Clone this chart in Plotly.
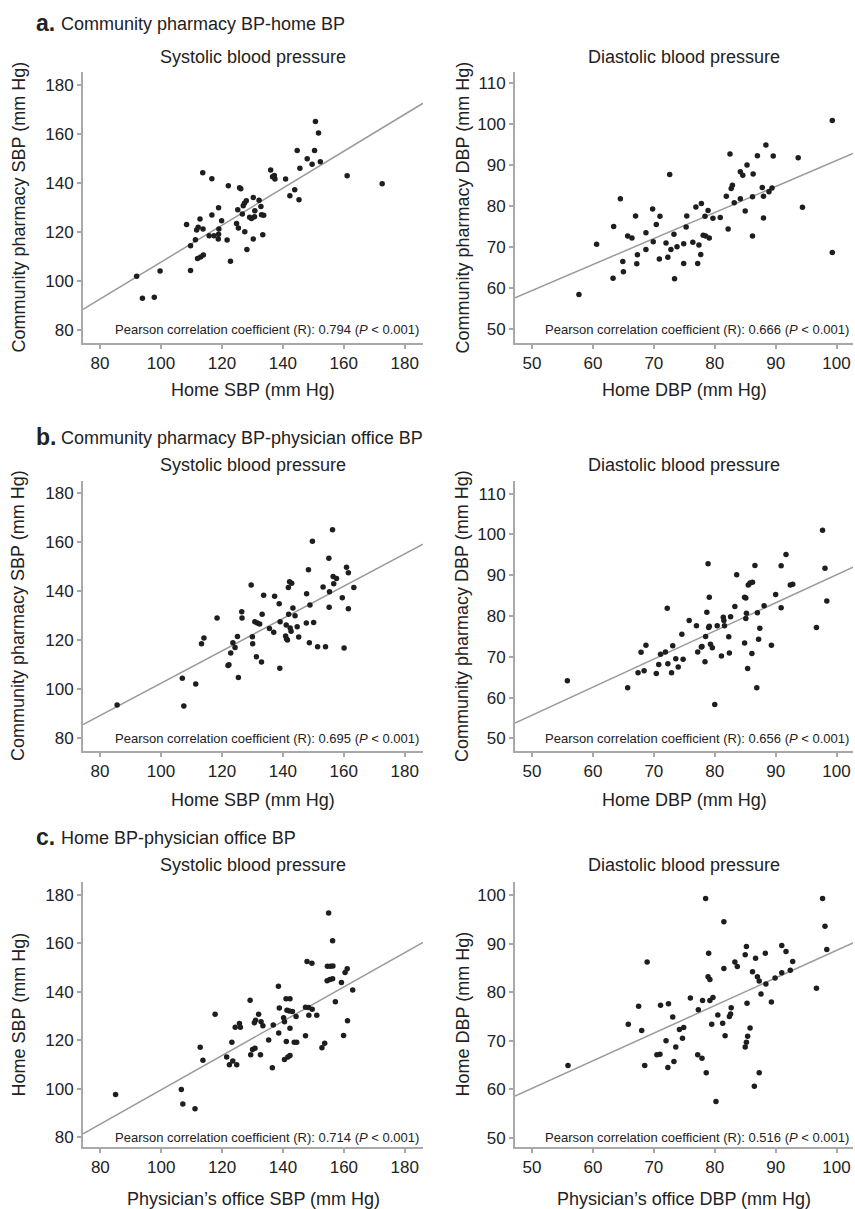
import numpy as np
import plotly.graph_objects as go

W, H = 855, 1209

# ---------------- data ----------------
# a. Community pharmacy BP vs home BP
a_sbp_home = [92.0, 93.9, 97.8, 99.7, 108.4, 109.7, 109.7, 111.3, 111.7, 112.2, 112.8, 113.8, 112.0, 113.0, 113.9,
              113.7, 116.7, 116.7, 115.8, 117.4, 118.9, 119.0, 118.9, 118.8, 119.9, 121.7, 122.1, 122.8, 124.8, 125.4,
              125.2, 125.8, 126.2, 126.7, 127.0, 127.4, 128.0, 127.5, 128.2, 129.1, 129.7, 130.3, 130.3, 130.8, 130.7,
              132.2, 132.8, 133.0, 133.7, 133.4, 136.0, 136.6, 137.2, 137.4, 140.9, 142.3, 143.9, 145.3, 144.7, 145.6,
              148.0, 149.6, 150.4, 150.7, 151.7, 152.3, 161.1, 172.6]
a_sbp_pharm = [101.8, 92.9, 93.3, 104.0, 123.0, 104.2, 114.3, 116.7, 120.7, 121.8, 125.2, 121.1, 109.1, 109.7, 110.5,
               144.1, 141.6, 126.8, 118.4, 118.4, 129.8, 121.1, 119.0, 117.0, 124.5, 116.6, 138.8, 108.0, 123.4, 121.5,
               129.0, 138.0, 137.6, 127.2, 130.6, 131.6, 132.7, 120.0, 112.8, 125.9, 125.4, 134.0, 117.0, 128.6, 126.1,
               132.9, 130.3, 126.9, 126.7, 118.8, 145.2, 142.4, 143.0, 141.5, 141.5, 134.7, 137.1, 133.1, 153.2, 145.9,
               149.8, 147.6, 153.2, 165.0, 160.3, 148.6, 142.9, 139.6]
a_dbp_home = [57.7, 60.6, 63.3, 63.4, 64.5, 64.9, 65.0, 65.7, 66.4, 67.0, 67.2, 67.3, 68.7, 68.7, 69.8, 69.9, 70.4,
              71.0, 70.9, 72.0, 72.3, 72.6, 72.8, 73.3, 73.8, 73.4, 74.9, 74.9, 75.3, 75.4, 76.4, 76.9, 77.2, 77.4,
              77.7, 77.8, 78.1, 78.4, 78.5, 78.9, 79.1, 79.7, 80.9, 81.9, 82.2, 82.5, 82.7, 82.9, 83.2, 84.2, 84.2,
              84.6, 85.0, 85.3, 86.2, 86.2, 86.3, 87.0, 87.8, 88.0, 88.0, 88.4, 88.9, 89.4, 89.6, 93.7, 94.4, 99.3, 99.3]
a_dbp_pharm = [58.5, 70.8, 62.5, 75.1, 81.9, 66.6, 64.1, 72.8, 72.3, 77.7, 66.0, 68.2, 73.6, 69.5, 79.4, 71.4, 75.6,
               77.6, 67.2, 71.1, 67.6, 87.8, 69.5, 73.2, 70.2, 62.4, 70.9, 66.1, 75.0, 77.7, 71.3, 79.9, 66.1, 70.6,
               68.3, 80.7, 73.0, 77.6, 72.8, 79.0, 72.3, 77.1, 77.3, 82.5, 74.5, 92.8, 84.4, 85.2, 80.9, 88.5, 81.9,
               87.6, 78.9, 90.1, 72.8, 82.4, 87.9, 92.4, 84.6, 82.5, 77.2, 95.0, 83.6, 84.5, 92.3, 91.9, 79.8, 101.0, 68.8]

# b. Community pharmacy BP vs physician office BP
b_sbp_x = [85.6, 107.5, 107.0, 111.4, 113.3, 114.1, 118.4, 122.0, 122.3, 122.9, 123.6, 124.3, 125.1, 125.4, 126.5,
           126.6, 129.6, 130.0, 130.1, 130.8, 131.3, 131.6, 132.4, 133.0, 133.2, 133.7, 135.6, 137.0, 137.3, 138.8,
           139.0, 139.1, 140.9, 141.2, 141.5, 141.1, 141.9, 141.8, 142.2, 142.9, 142.4, 142.7, 143.3, 144.0, 144.7,
           145.2, 147.7, 147.8, 148.4, 148.7, 148.9, 149.7, 150.1, 151.4, 153.2, 154.0, 155.1, 155.3, 155.2, 156.3,
           156.5, 156.7, 157.6, 159.5, 160.1, 160.9, 161.5, 161.5, 163.3]
b_sbp_y = [93.6, 93.2, 104.5, 102.2, 118.6, 121.0, 129.1, 109.7, 110.0, 114.8, 119.0, 117.1, 121.6, 104.8, 131.7,
           129.1, 142.6, 121.5, 118.6, 127.6, 113.3, 127.1, 126.7, 111.2, 130.7, 138.4, 124.8, 123.3, 138.0, 135.0,
           108.6, 127.6, 121.8, 120.7, 120.1, 126.3, 130.7, 141.6, 143.9, 143.3, 125.0, 123.7, 133.2, 130.1, 125.6,
           121.4, 127.1, 139.0, 148.8, 119.0, 134.4, 160.5, 127.3, 117.4, 141.8, 117.4, 153.5, 139.9, 133.5, 165.2,
           146.1, 143.1, 145.3, 137.4, 116.9, 149.9, 147.6, 132.9, 141.6]
b_dbp_x = [55.8, 65.7, 67.4, 67.9, 68.4, 68.7, 70.4, 70.8, 71.1, 71.9, 72.3, 72.2, 72.9, 73.1, 73.6, 74.0, 74.6,
           74.8, 75.8, 77.0, 77.2, 77.8, 77.9, 78.4, 78.5, 78.7, 78.9, 79.0, 79.1, 79.1, 79.3, 79.6, 80.4, 80.0,
           81.1, 81.4, 81.5, 81.6, 82.3, 82.4, 82.6, 83.3, 83.6, 84.9, 84.9, 85.1, 85.1, 85.2, 85.4, 85.5, 85.8,
           86.1, 86.2, 86.6, 86.9, 87.0, 87.2, 87.4, 88.1, 89.3, 90.0, 90.9, 90.9, 91.7, 92.4, 92.8, 96.7, 97.7,
           98.1, 98.4]
b_dbp_y = [64.1, 62.4, 66.1, 71.1, 66.6, 72.8, 65.9, 68.1, 70.6, 71.2, 68.3, 81.9, 66.1, 72.7, 69.5, 67.5, 75.5,
           69.4, 78.9, 77.6, 71.2, 72.4, 72.5, 68.8, 75.0, 80.9, 92.8, 77.2, 77.5, 84.6, 73.1, 72.2, 77.6, 58.3,
           70.2, 79.7, 78.9, 77.6, 74.9, 70.9, 79.8, 82.3, 90.1, 73.4, 84.6, 84.4, 79.4, 80.7, 67.1, 87.6, 88.1,
           70.8, 88.3, 92.4, 62.4, 80.8, 74.3, 77.0, 82.5, 72.8, 85.3, 82.0, 92.3, 95.1, 87.6, 87.8, 77.2, 101.0,
           91.7, 83.7]

# c. Home BP vs physician office BP
c_sbp_office = [85.0, 106.6, 107.1, 111.1, 112.8, 113.7, 117.7, 121.5, 122.4, 123.5, 124.8, 123.2, 124.3, 126.0,
                125.7, 129.2, 129.4, 130.0, 130.8, 132.6, 130.6, 131.0, 132.0, 132.8, 133.4, 135.3, 136.5, 136.8,
                138.5, 138.6, 138.8, 140.2, 140.5, 141.0, 142.3, 141.3, 142.1, 143.1, 142.3, 141.1, 141.6, 142.3,
                140.5, 143.7, 144.5, 144.3, 147.4, 147.4, 148.4, 149.6, 148.5, 151.1, 147.9, 149.5, 152.8, 153.7,
                155.0, 156.3, 154.6, 155.6, 156.4, 154.5, 155.4, 156.3, 157.2, 159.2, 159.9, 160.4, 161.1, 161.2,
                162.9]
c_sbp_home = [97.6, 99.7, 93.7, 91.8, 117.1, 111.7, 130.7, 113.1, 109.9, 111.4, 109.9, 119.2, 125.3, 125.3, 126.9,
              136.5, 114.0, 116.2, 116.7, 114.0, 127.2, 128.2, 130.7, 127.6, 126.0, 120.1, 108.7, 126.3, 142.2, 123.0,
              133.3, 129.3, 127.6, 137.1, 137.1, 132.4, 132.0, 131.8, 124.9, 119.5, 113.1, 113.7, 112.1, 119.2, 119.2,
              129.8, 121.8, 133.6, 133.5, 132.8, 130.3, 130.3, 152.4, 151.7, 116.9, 118.8, 172.4, 161.0, 150.5, 150.5,
              150.6, 144.5, 145.0, 145.3, 135.9, 143.8, 121.9, 147.9, 149.5, 128.0, 140.7]
c_dbp_office = [55.9, 65.8, 67.5, 68.0, 68.9, 68.5, 70.5, 71.0, 71.1, 72.0, 72.4, 72.3, 73.1, 73.3, 73.6, 74.2, 74.9,
                74.7, 76.0, 77.3, 77.2, 77.9, 78.0, 78.5, 79.0, 78.9, 79.2, 79.2, 79.7, 79.5, 80.5, 81.3, 81.7, 81.5,
                81.5, 82.4, 82.6, 82.7, 83.3, 83.7, 85.0, 85.2, 85.4, 85.8, 85.0, 85.2, 85.3, 86.2, 86.7, 87.0, 87.3,
                87.6, 88.3, 88.4, 89.3, 89.9, 91.0, 91.0, 91.7, 92.4, 92.8, 96.7, 97.7, 98.1, 98.4, 78.6, 80.2, 86.5,
                87.3]
c_dbp_home = [64.9, 73.4, 77.1, 72.1, 86.2, 64.9, 67.1, 67.2, 77.3, 70.0, 77.6, 64.5, 74.9, 65.7, 68.7, 72.3, 72.7,
              70.5, 78.8, 76.4, 67.1, 66.4, 78.3, 99.3, 88.0, 83.2, 82.6, 78.3, 78.9, 73.4, 75.3, 73.6, 71.0, 84.9,
              94.5, 75.0, 75.5, 76.8, 86.2, 85.3, 68.7, 69.7, 70.9, 72.6, 87.7, 89.4, 77.7, 84.2, 87.0, 83.2, 82.3,
              79.6, 88.0, 81.7, 78.0, 82.9, 84.0, 89.6, 88.4, 84.5, 86.3, 80.8, 99.3, 93.6, 88.8, 63.4, 57.5, 60.6,
              63.4]

# fitted regression lines: (slope, intercept)
fit_lines = [(0.754, 32.2), (0.634, 27.8), (0.660, 36.5), (0.688, 21.3), (0.706, 29.0), (0.568, 31.8)]

pearson_r = ["0.794", "0.666", "0.695", "0.656", "0.714", "0.516"]

sbp_ticks = [80, 100, 120, 140, 160, 180]
dbp_ticks_ab = [50, 60, 70, 80, 90, 100, 110]
dbp_ticks_c = [50, 60, 70, 80, 90, 100]
dbp_xticks = [50, 60, 70, 80, 90, 100]

row_headers = ["a.", "b.", "c."]
row_header_texts = ["Community pharmacy BP-home BP",
                    "Community pharmacy BP-physician office BP",
                    "Home BP-physician office BP"]
col_titles = ["Systolic blood pressure", "Diastolic blood pressure"]
x_titles = ["Home SBP (mm Hg)", "Home DBP (mm Hg)",
            "Home SBP (mm Hg)", "Home DBP (mm Hg)",
            "Physician\u2019s office SBP (mm Hg)", "Physician\u2019s office DBP (mm Hg)"]
y_titles = ["Community pharmacy SBP (mm Hg)", "Community pharmacy DBP (mm Hg)",
            "Community pharmacy SBP (mm Hg)", "Community pharmacy DBP (mm Hg)",
            "Home SBP (mm Hg)", "Home DBP (mm Hg)"]

# ---------------- layout geometry (pixels) ----------------
col_x = [(83, 423), (515, 853)]
row_y = [(72, 343), (481, 751), (882, 1147)]
header_y = [23, 437, 837]
title_y = [57, 465, 865]
xtitle_y = [390, 800, 1199]
ytitle_x = [18, 462]

panels = [
    dict(x=a_sbp_home, y=a_sbp_pharm, xr=[74.4, 186.0], yr=[74.6, 185.2], xt=sbp_ticks, yt=sbp_ticks),
    dict(x=a_dbp_home, y=a_dbp_pharm, xr=[47.2, 102.7], yr=[46.7, 112.8], xt=dbp_xticks, yt=dbp_ticks_ab),
    dict(x=b_sbp_x, y=b_sbp_y, xr=[74.4, 186.0], yr=[74.8, 185.1], xt=sbp_ticks, yt=sbp_ticks),
    dict(x=b_dbp_x, y=b_dbp_y, xr=[47.2, 102.7], yr=[46.9, 113.1], xt=dbp_xticks, yt=dbp_ticks_ab),
    dict(x=c_sbp_office, y=c_sbp_home, xr=[74.3, 186.0], yr=[76.0, 185.2], xt=sbp_ticks, yt=sbp_ticks),
    dict(x=c_dbp_office, y=c_dbp_home, xr=[47.2, 102.7], yr=[48.1, 102.7], xt=dbp_xticks, yt=dbp_ticks_c),
]


def fx(px):
    return px / W


def fy(py):
    return 1 - py / H


FONT = "Liberation Sans, Arial, Helvetica, sans-serif"
TXT = "#222222"
AXC = "#a9a9a9"

fig = go.Figure()
layout = dict(
    width=W, height=H, margin=dict(l=0, r=0, t=0, b=0),
    paper_bgcolor="white", plot_bgcolor="white", showlegend=False,
    font=dict(family=FONT, color=TXT, size=17),
)
annotations = []

for i, p in enumerate(panels):
    r, c = divmod(i, 2)
    n = "" if i == 0 else str(i + 1)
    xa, ya = "x" + n, "y" + n
    x0, x1 = col_x[c]
    y0, y1 = row_y[r]
    axis_common = dict(showgrid=False, zeroline=False, showline=True, linecolor=AXC, linewidth=2,
                       ticks="outside", ticklen=4, tickwidth=1.5, tickcolor=AXC,
                       tickfont=dict(family=FONT, size=17, color=TXT), mirror=False)
    layout["xaxis" + n] = dict(domain=[fx(x0), fx(x1)], anchor=ya, range=p["xr"], tickvals=p["xt"],
                               **axis_common)
    layout["yaxis" + n] = dict(domain=[fy(y1), fy(y0)], anchor=xa, range=p["yr"], tickvals=p["yt"],
                               **axis_common)

    slope, icpt = fit_lines[i]
    lx = np.array(p["xr"])
    fig.add_trace(go.Scatter(x=lx, y=slope * lx + icpt, mode="lines", xaxis=xa, yaxis=ya,
                             line=dict(color="#9a9a9a", width=1.5), hoverinfo="skip"))
    fig.add_trace(go.Scatter(x=p["x"], y=p["y"], mode="markers", xaxis=xa, yaxis=ya,
                             marker=dict(color="#1e1e1e", size=5.5, line=dict(width=0))))

    # Pearson text
    annotations.append(dict(text="Pearson correlation coefficient (R): %s (<i>P</i> < 0.001)" % pearson_r[i],
                            xref="paper", yref=ya, x=fx(x1 - 2), y=p["yt"][0], xanchor="right",
                            yanchor="middle", showarrow=False, font=dict(size=13, color=TXT, family=FONT)))
    # column title
    annotations.append(dict(text=col_titles[c], xref="paper", yref="paper", x=fx((x0 + x1) / 2),
                            y=fy(title_y[r]), xanchor="center", yanchor="middle", showarrow=False,
                            font=dict(size=18, color=TXT, family=FONT)))
    # x title
    annotations.append(dict(text=x_titles[i], xref="paper", yref="paper", x=fx((x0 + x1) / 2),
                            y=fy(xtitle_y[r]), xanchor="center", yanchor="middle", showarrow=False,
                            font=dict(size=18, color=TXT, family=FONT)))
    # y title
    annotations.append(dict(text=y_titles[i], xref="paper", yref="paper", x=fx(ytitle_x[c]),
                            y=fy((y0 + y1) / 2), xanchor="center", yanchor="middle", textangle=-90,
                            showarrow=False, font=dict(size=18, color=TXT, family=FONT)))

for r in range(3):
    annotations.append(dict(text="<b>%s</b>" % row_headers[r], xref="paper", yref="paper", x=fx(34),
                            y=fy(header_y[r]), xanchor="left", yanchor="middle", showarrow=False,
                            font=dict(size=23, color=TXT, family=FONT)))
    annotations.append(dict(text=row_header_texts[r], xref="paper", yref="paper", x=fx(59),
                            y=fy(header_y[r] + 1), xanchor="left", yanchor="middle", showarrow=False,
                            font=dict(size=18, color=TXT, family=FONT)))

layout["annotations"] = annotations
fig.update_layout(**layout)
fig.write_html(
    "out.html",
    config={"displayModeBar": False},
    post_script="document.body.style.margin='0';document.body.style.padding='0';"
                "document.body.style.overflow='hidden';"
                "document.documentElement.style.overflow='hidden';",
)
